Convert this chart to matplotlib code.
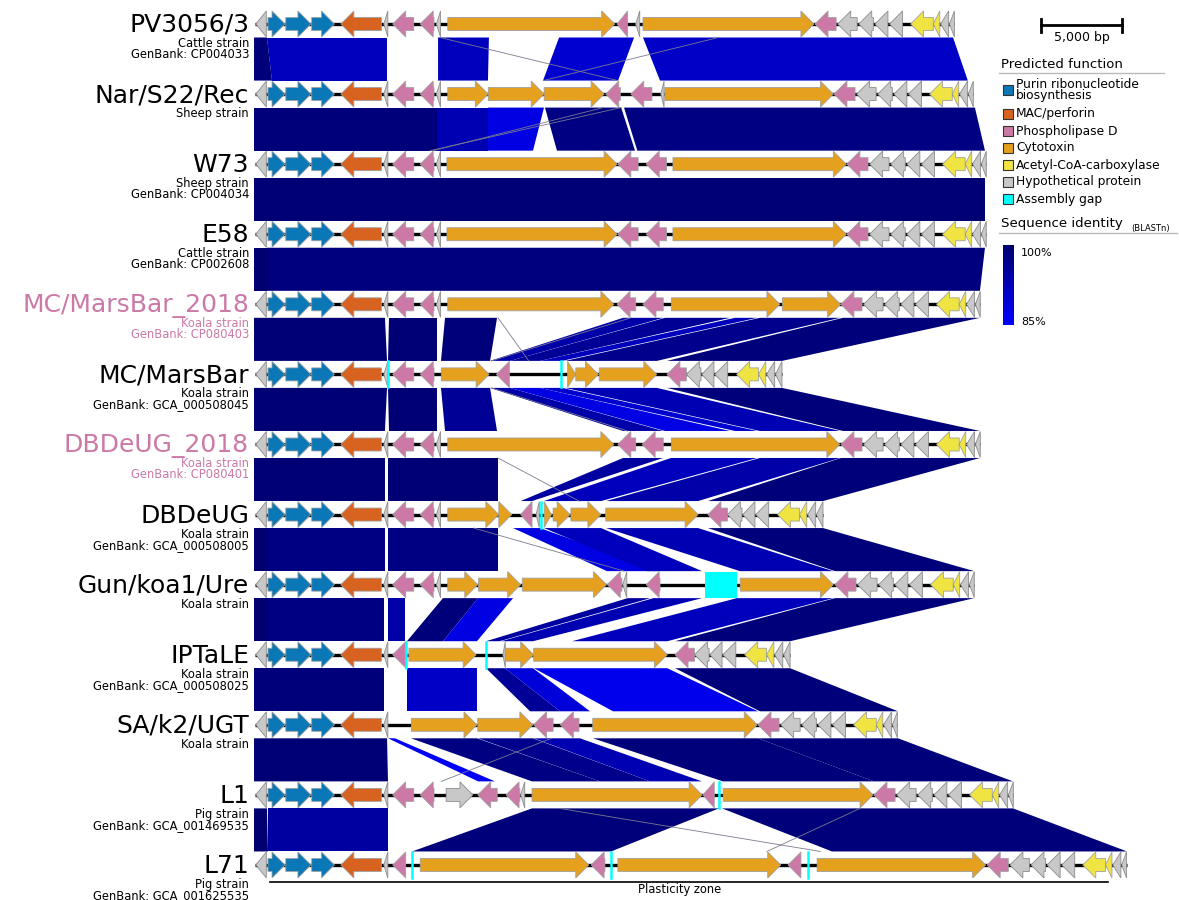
import numpy as np
import matplotlib.pyplot as plt
from matplotlib.patches import Polygon, Rectangle
from matplotlib.colors import LinearSegmentedColormap, Normalize

# ---------------- data (positions in kb from the start of each locus) ----------------
TRACK_NAMES = ["PV3056/3", "Nar/S22/Rec", "W73", "E58", "MC/MarsBar_2018", "MC/MarsBar",
               "DBDeUG_2018", "DBDeUG", "Gun/koa1/Ure", "IPTaLE", "SA/k2/UGT", "L1", "L71"]
TRACK_HOSTS = ["Cattle strain", "Sheep strain", "Sheep strain", "Cattle strain", "Koala strain",
               "Koala strain", "Koala strain", "Koala strain", "Koala strain", "Koala strain",
               "Koala strain", "Pig strain", "Pig strain"]
TRACK_ACCESSIONS = ["GenBank: CP004033", "", "GenBank: CP004034", "GenBank: CP002608",
                    "GenBank: CP080403", "GenBank: GCA_000508045", "GenBank: CP080401",
                    "GenBank: GCA_000508005", "", "GenBank: GCA_000508025", "",
                    "GenBank: GCA_001469535", "GenBank: GCA_001625535"]
HIGHLIGHTED = ["MC/MarsBar_2018", "DBDeUG_2018"]

# (start, end, strand, function)
LEFT_CORE = [(0.05, 0.7, -1, "hyp"), (0.8, 1.85, 1, "pur"), (1.9, 3.45, 1, "pur"),
             (3.5, 4.9, 1, "pur"), (5.3, 7.8, -1, "mac"), (7.95, 8.2, -1, "hyp")]
PLD_PAIR = [(8.5, 9.8, -1, "pld"), (10.2, 11.05, -1, "pld")]
RIGHT_4 = [(0.0, 1.3, -1, "pld"), (1.4, 2.6, -1, "hyp"), (2.7, 3.6, -1, "hyp"),
           (3.7, 4.5, -1, "hyp"), (4.6, 5.4, -1, "hyp"), (5.9, 7.3, -1, "acc"),
           (7.3, 7.7, -1, "acc"), (7.75, 8.25, -1, "hyp"), (8.3, 8.6, -1, "hyp")]
RIGHT_3 = [(0.0, 1.2, -1, "pld"), (1.2, 2.1, -1, "hyp"), (2.15, 2.9, -1, "hyp"),
           (2.95, 3.75, -1, "hyp"), (4.3, 5.65, -1, "acc"), (5.65, 6.1, -1, "acc"),
           (6.15, 6.65, -1, "hyp"), (6.7, 7.1, -1, "hyp")]

PV_GENES = PLD_PAIR + [(11.2, 11.45, -1, "hyp"), (11.9, 22.2, 1, "cyt"), (22.35, 23.0, -1, "pld"),
                       (23.5, 23.75, -1, "hyp"), (23.95, 34.5, 1, "cyt")]
NAR_GENES = PLD_PAIR + [(11.2, 11.45, -1, "hyp"), (11.9, 14.4, 1, "cyt"), (14.4, 17.85, 1, "cyt"),
                        (17.85, 21.55, 1, "cyt"), (21.65, 22.55, -1, "pld"), (23.2, 24.5, -1, "pld"),
                        (25.05, 25.25, -1, "hyp"), (25.3, 35.7, 1, "cyt")]
W73_GENES = PLD_PAIR + [(11.2, 11.45, -1, "hyp"), (11.85, 22.35, 1, "cyt"), (22.4, 23.65, -1, "pld"),
                        (24.15, 25.4, -1, "pld"), (25.8, 36.5, 1, "cyt")]
E58_GENES = PLD_PAIR + [(11.2, 11.45, -1, "hyp"), (11.85, 22.35, 1, "cyt"), (22.4, 23.65, -1, "pld"),
                        (24.15, 25.4, -1, "pld"), (25.8, 36.5, 1, "cyt")]
MB18_GENES = PLD_PAIR + [(11.2, 11.45, -1, "hyp"), (11.9, 22.15, 1, "cyt"), (22.35, 23.5, -1, "pld"),
                         (23.95, 25.2, -1, "pld"), (25.7, 32.4, 1, "cyt"), (32.55, 36.15, 1, "cyt")]
MB_GENES = PLD_PAIR + [(11.5, 14.45, 1, "cyt"), (14.9, 15.7, -1, "pld"), (19.3, 19.8, 1, "cyt"),
                       (19.8, 21.2, 1, "cyt"), (21.25, 24.8, 1, "cyt")]
DB18_GENES = PLD_PAIR + [(11.2, 11.45, -1, "hyp"), (11.9, 22.15, 1, "cyt"), (22.4, 23.5, -1, "pld"),
                         (23.9, 25.2, -1, "pld"), (25.7, 36.1, 1, "cyt")]
DB_GENES = PLD_PAIR + [(11.2, 11.45, -1, "hyp"), (11.9, 15.05, 1, "cyt"), (15.05, 15.85, 1, "cyt"),
                       (16.4, 17.1, -1, "pld"), (17.35, 17.55, -1, "hyp"), (17.85, 18.3, 1, "cyt"),
                       (18.4, 19.45, 1, "cyt"), (19.5, 21.35, 1, "cyt"), (21.65, 27.35, 1, "cyt")]
GUN_GENES = PLD_PAIR + [(11.2, 11.45, -1, "hyp"), (11.9, 13.75, 1, "cyt"), (13.8, 16.4, 1, "cyt"),
                        (16.5, 21.7, 1, "cyt"), (21.75, 22.65, -1, "pld"), (22.7, 22.95, -1, "hyp"),
                        (24.15, 25.0, -1, "pld"), (29.95, 35.7, 1, "cyt")]
IPT_GENES = [(8.5, 9.3, -1, "pld"), (9.5, 13.65, 1, "cyt"), (15.3, 15.45, -1, "hyp"),
             (15.45, 17.2, 1, "cyt"), (17.2, 25.45, 1, "cyt")]
SA_GENES = [(9.65, 13.7, 1, "cyt"), (13.75, 17.15, 1, "cyt"), (17.2, 18.4, -1, "pld"),
            (18.85, 20.0, -1, "pld"), (20.85, 31.0, 1, "cyt")]
L1_GENES = PLD_PAIR + [(11.8, 13.45, 1, "hyp"), (13.75, 14.95, -1, "pld"), (15.5, 16.35, -1, "pld"),
                       (16.4, 16.65, -1, "hyp"), (17.1, 27.6, 1, "cyt"), (27.65, 28.35, -1, "pld"),
                       (28.9, 38.15, 1, "cyt")]
L71_GENES = [(8.5, 9.3, -1, "pld"), (10.2, 20.6, 1, "cyt"), (20.75, 21.6, -1, "pld"),
             (22.4, 32.45, 1, "cyt"), (32.9, 33.7, -1, "pld"), (34.7, 45.1, 1, "cyt")]

TRACK_GENES = [PV_GENES, NAR_GENES, W73_GENES, E58_GENES, MB18_GENES, MB_GENES, DB18_GENES,
               DB_GENES, GUN_GENES, IPT_GENES, SA_GENES, L1_GENES, L71_GENES]
RIGHT_START = [34.57, 35.74, 36.54, 36.54, 36.17, 25.43, 36.17, 27.96, 35.8, 25.93, 31.05, 38.21, 45.2]
RIGHT_TYPE = [4, 4, 4, 4, 4, 3, 4, 3, 4, 3, 4, 4, 4]
GAP_LINES = [[], [], [], [], [], [8.2, 18.9], [], [17.65], [], [9.32, 14.26], [], [28.65],
             [9.7, 21.98, 34.15]]
GAP_BOXES = [[], [], [], [], [], [], [], [], [(27.8, 29.75)], [], [], [], []]

# BLASTn hits between neighbouring loci: (top start, top end, bottom start, bottom end, identity %)
BLAST_HITS = [
    [(-0.06, 0.74, -0.06, 1.05, 99), (0.74, 8.15, 1.05, 8.15, 92), (11.3, 14.44, 11.3, 14.38, 92),
     (18.77, 23.4, 17.78, 22.41, 90), (23.95, 43.09, 25.0, 44.0, 91)],
    [(-0.06, 11.23, -0.06, 11.23, 99), (11.23, 14.38, 11.23, 14.38, 93),
     (14.38, 17.84, 14.38, 17.16, 88), (17.9, 22.6, 18.64, 23.46, 98), (22.78, 44.44, 23.6, 45.06, 98)],
    [(-0.06, 45.06, -0.06, 45.06, 99.5)],
    [(-0.06, 0.74, -0.06, 0.74, 100), (0.74, 45.06, 0.74, 44.75, 98.5)],
    [(-0.06, 8.02, -0.06, 8.15, 99.5), (8.27, 11.23, 8.21, 11.23, 99.5), (11.73, 14.94, 11.48, 14.51, 99),
     (22.72, 25.19, 14.51, 15.74, 94), (25.31, 29.32, 15.74, 17.59, 96), (29.63, 30.99, 17.59, 18.95, 92),
     (31.17, 36.11, 19.14, 24.81, 97), (36.3, 44.75, 25.43, 32.53, 99)],
    [(-0.06, 8.15, -0.06, 8.02, 99.5), (8.21, 11.23, 8.27, 11.23, 99.5), (11.48, 14.51, 11.73, 14.94, 96),
     (14.51, 15.74, 22.72, 25.19, 94), (15.74, 17.59, 25.31, 29.32, 88), (17.59, 18.95, 29.63, 30.99, 90),
     (19.14, 24.81, 31.17, 36.11, 93), (25.43, 32.53, 36.3, 44.75, 99)],
    [(-0.06, 8.02, -0.06, 8.02, 99.5), (8.21, 15.0, 8.21, 15.0, 99.5), (22.72, 25.19, 16.4, 17.1, 95),
     (25.68, 30.99, 17.84, 21.36, 92), (31.17, 36.11, 21.67, 27.35, 94), (36.17, 44.75, 27.96, 35.06, 99)],
    [(-0.06, 0.8, -0.06, 0.8, 100), (0.8, 8.02, 0.8, 8.02, 98), (8.21, 15.0, 8.21, 15.0, 98),
     (15.93, 17.59, 21.73, 25.0, 88), (17.84, 21.36, 24.2, 27.6, 92), (21.67, 27.35, 29.94, 35.68, 93),
     (27.96, 35.06, 35.8, 44.4, 99)],
    [(-0.06, 0.8, -0.06, 0.8, 100), (0.8, 7.96, 0.8, 7.96, 98), (8.21, 9.26, 8.21, 9.26, 94),
     (11.6, 13.77, 9.38, 11.6, 99), (13.77, 15.93, 11.6, 13.7, 88), (23.0, 24.4, 14.26, 15.1, 95),
     (24.6, 27.6, 15.2, 17.16, 93), (29.75, 35.68, 19.57, 25.45, 92), (35.8, 44.4, 25.93, 33.03, 99)],
    [(-0.06, 7.96, -0.06, 7.96, 99), (9.38, 13.7, 9.38, 13.7, 91), (14.26, 15.43, 16.98, 18.83, 96),
     (15.43, 17.16, 18.83, 20.68, 89), (17.22, 25.45, 22.1, 31.05, 87), (25.93, 33.03, 31.17, 39.69, 99)],
    [(-0.06, 8.15, -0.06, 8.21, 99.5), (8.21, 8.64, 13.77, 14.81, 86), (9.63, 13.7, 17.1, 21.3, 98),
     (13.77, 17.16, 21.3, 24.38, 97), (17.22, 20.06, 24.38, 27.59, 93), (20.86, 31.05, 28.89, 38.21, 99),
     (31.05, 39.69, 38.21, 46.79, 99)],
    [(-0.06, 0.74, -0.06, 0.8, 100), (0.8, 8.21, 0.8, 8.21, 95), (17.1, 28.64, 9.7, 21.98, 99),
     (28.83, 46.79, 35.62, 53.83, 99)],
]
# short hits drawn as single lines: (pair, top kb, bottom kb)
THIN_LINKS = [(0, 11.42, 22.4), (0, 28.6, 17.8), (1, 22.6, 10.8), (1, 21.5, 11.0),
              (4, 23.2, 14.6), (4, 15.0, 16.9), (5, 14.6, 23.0), (6, 15.0, 20.0),
              (7, 13.5, 22.8), (10, 18.3, 11.5), (11, 18.8, 34.9), (11, 37.35, 31.6)]

FUNC_COLORS = {"pur": "#0a77b6", "mac": "#d8621f", "pld": "#cc79a7", "cyt": "#e5a01e",
               "acc": "#f0e442", "hyp": "#c8c8c8", "gap": "#00ffff"}
LEGEND_FUNCS = ["pur", "mac", "pld", "cyt", "acc", "hyp", "gap"]
LEGEND_LABELS = ["Purin ribonucleotide\nbiosynthesis", "MAC/perforin", "Phospholipase D", "Cytotoxin",
                 "Acetyl-CoA-carboxylase", "Hypothetical protein", "Assembly gap"]
IDENTITY_RANGE = (85, 100)
SCALE_BAR_KB = 5.0
PLASTICITY_ZONE = (0.9, 52.65)

# ---------------- layout ----------------
PX_PER_KB = 16.2
ROW_Y = [24 + 70.08 * i for i in range(len(TRACK_NAMES))]
HH, BH = 13.0, 6.5           # arrow head / body half height (px)
HEAD = 0.8                   # arrow head length (kb)
pink_txt = "#cc79a7"

fig = plt.figure(figsize=(11.79, 9.0), dpi=100)
ax = fig.add_axes([0, 0, 1, 1])
x0 = -255 / PX_PER_KB
ax.set_xlim(x0, x0 + 1179 / PX_PER_KB)
ax.set_ylim(900, 0)
ax.axis("off")

cmap = LinearSegmentedColormap.from_list("blast", ["#0000ff", "#000070"])
norm = Normalize(*IDENTITY_RANGE)


def arrow(s, e, strand, y):
    hl = min(HEAD, e - s)
    if strand < 0:
        s, e = e, s
        hl = -hl
    if abs(e - s) <= abs(hl) + 1e-9:
        return [(s, y - HH), (e, y), (s, y + HH)]
    return [(s, y - BH), (e - hl, y - BH), (e - hl, y - HH), (e, y),
            (e - hl, y + HH), (e - hl, y + BH), (s, y + BH)]


# BLAST bands
for i, hits in enumerate(BLAST_HITS):
    yt, yb = ROW_Y[i] + HH + 0.5, ROW_Y[i + 1] - HH - 0.5
    for t0, t1, b0, b1, ident in hits:
        ax.add_patch(Polygon([(t0, yt), (t1, yt), (b1, yb), (b0, yb)], closed=True,
                             facecolor=cmap(norm(ident)), edgecolor="none", zorder=1))
for i, t, b in THIN_LINKS:
    ax.plot([t, b], [ROW_Y[i] + HH + 0.5, ROW_Y[i + 1] - HH - 0.5], color="#7a7a90", lw=0.6, zorder=1.5)

# gene tracks
for i, name in enumerate(TRACK_NAMES):
    y = ROW_Y[i]
    block = RIGHT_4 if RIGHT_TYPE[i] == 4 else RIGHT_3
    genes = LEFT_CORE + TRACK_GENES[i] + [(RIGHT_START[i] + s, RIGHT_START[i] + e, d, f)
                                          for s, e, d, f in block]
    end = max(g[1] for g in genes)
    ax.plot([0, end], [y, y], color="black", lw=2.4, zorder=2, solid_capstyle="butt")
    for s, e, d, f in genes:
        ec = "#8c8c8c" if f == "hyp" else "#a0a0a0"
        ax.add_patch(Polygon(arrow(s, e, d, y), closed=True, facecolor=FUNC_COLORS[f],
                             edgecolor=ec, lw=0.6, zorder=3))
    for g in GAP_LINES[i]:
        ax.plot([g, g], [y - HH, y + HH], color=FUNC_COLORS["gap"], lw=1.8, zorder=4)
    for s, e in GAP_BOXES[i]:
        ax.add_patch(Rectangle((s, y - HH), e - s, 2 * HH, facecolor=FUNC_COLORS["gap"],
                               edgecolor="none", zorder=4))

    col = pink_txt if name in HIGHLIGHTED else "black"
    lx = -0.37
    ax.text(lx, y + 8, name, fontsize=18, ha="right", va="baseline", color=col)
    ax.text(lx, y + 19.5, TRACK_HOSTS[i], fontsize=8.3, ha="right", va="center", color=col)
    if TRACK_ACCESSIONS[i]:
        ax.text(lx, y + 30.5, TRACK_ACCESSIONS[i], fontsize=8.3, ha="right", va="center", color=col)

# plasticity zone
pz_y = ROW_Y[-1] + 17
ax.plot(PLASTICITY_ZONE, [pz_y, pz_y], color="black", lw=1.2)
ax.text(26.2, pz_y + 8, "Plasticity zone", fontsize=8.3, ha="center", va="center")

# scale bar
sb0 = (1041 - 255) / PX_PER_KB
ax.plot([sb0, sb0 + SCALE_BAR_KB], [25, 25], color="black", lw=2)
for xx in (sb0, sb0 + SCALE_BAR_KB):
    ax.plot([xx, xx], [19, 32], color="black", lw=2)
ax.text(sb0 + SCALE_BAR_KB / 2, 38, "5,000 bp", fontsize=9, ha="center", va="center")

# legend (pixel coordinates)
lg = fig.add_axes([0, 0, 1, 1], facecolor="none")
lg.axis("off")
lg.text(1001, 64, "Predicted function", fontsize=9.5, va="center")
lg.plot([999, 1164], [73, 73], color="#bbbbbb", lw=1)
leg_y = [90, 114, 131, 148, 165, 182, 199]
for f, lab, yy in zip(LEGEND_FUNCS, LEGEND_LABELS, leg_y):
    lg.add_patch(Rectangle((1002.5, yy - 5), 10, 10, facecolor=FUNC_COLORS[f],
                           edgecolor="#333333", lw=0.8))
    lg.text(1016, yy, lab, fontsize=8.8, va="center", linespacing=0.9)
lg.text(1001, 223, "Sequence identity", fontsize=9.6, va="center")
lg.text(1131, 228, "(BLASTn)", fontsize=6, va="center")
lg.plot([999, 1177], [233, 233], color="#bbbbbb", lw=1)
grad = np.linspace(IDENTITY_RANGE[1], IDENTITY_RANGE[0], 100)[:, None]
lg.imshow(grad, extent=[1003, 1014, 325, 245], cmap=cmap, norm=norm, aspect="auto")
lg.text(1021, 253, "100%", fontsize=8, va="center")
lg.text(1021, 322, "85%", fontsize=8, va="center")
lg.set_xlim(0, 1179)
lg.set_ylim(900, 0)

fig.savefig("out.png", dpi=100)
